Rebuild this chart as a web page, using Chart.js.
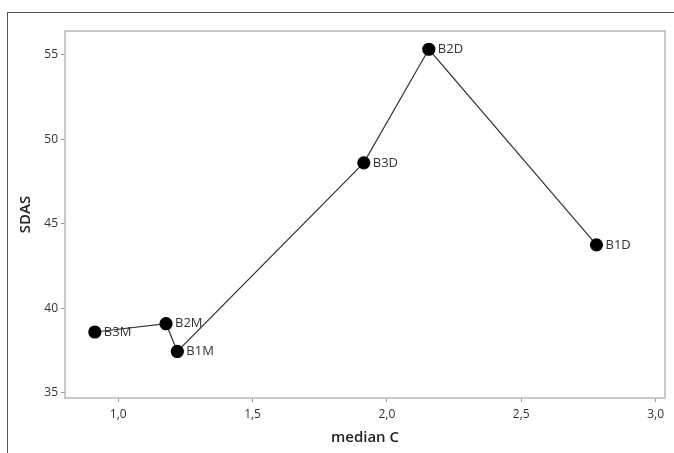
<!DOCTYPE html>
<html>
<head>
<meta charset="utf-8">
<script src="https://cdn.jsdelivr.net/npm/chart.js@4.4.0/dist/chart.umd.min.js"></script>
<style>
  html, body { margin: 0; padding: 0; background: #fff; }
  #wrap { position: relative; width: 674px; height: 453px; }
  #frame { position: absolute; left: 7px; top: 12px; width: 680px; height: 460px;
           border-left: 1px solid #555; border-top: 1px solid #555; pointer-events: none; }
</style>
</head>
<body>
<div id="wrap">
  <canvas id="sdasChart" width="674" height="453"></canvas>
  <div id="frame"></div>
</div>
<script>
const labels = ['B3M', 'B2M', 'B1M', 'B3D', 'B2D', 'B1D']; // 点のラベル
const medianC = [0.913, 1.178, 1.22, 1.914, 2.156, 2.78];
const sdas = [38.6, 39.09, 37.45, 48.6, 55.31, 43.75];
const xTicks = [1.0, 1.5, 2.0, 2.5, 3.0];
const yTicks = [35, 40, 45, 50, 55];

// 点の横にラベルを描く
const pointLabels = {
    id: 'pointLabels',
    afterDatasetsDraw(chart) {
        const ctx = chart.ctx;
        const meta = chart.getDatasetMeta(0);
        ctx.save();
        ctx.font = '13px "Open Sans", sans-serif';
        ctx.fillStyle = '#333';
        ctx.textBaseline = 'middle';
        meta.data.forEach((pt, i) => {
            ctx.fillText(labels[i], pt.x + 9, pt.y);
        });
        ctx.restore();
    }
};

// プロット枠
const plotFrame = {
    id: 'plotFrame',
    afterDraw(chart) {
        const a = chart.chartArea;
        const ctx = chart.ctx;
        ctx.save();
        ctx.strokeStyle = '#b8b8b8';
        ctx.lineWidth = 1.5;
        ctx.strokeRect(a.left, a.top, a.right - a.left, a.bottom - a.top);
        ctx.restore();
    }
};

const fmt = v => v.toFixed(1).replace('.', ',');

const ctx = document.getElementById('sdasChart').getContext('2d');
const sdasChart = new Chart(ctx, {
    type: 'scatter',
    data: {
        datasets: [{
            data: medianC.map((x, i) => ({ x: x, y: sdas[i] })),
            showLine: true,
            borderColor: '#333',
            borderWidth: 1.2,
            pointBackgroundColor: '#000',
            pointBorderColor: '#000',
            pointRadius: 6,
            pointHoverRadius: 6
        }]
    },
    options: {
        responsive: false,
        animation: false,
        layout: { padding: { left: 0, top: 31, right: 9, bottom: 0 } },
        plugins: { legend: { display: false }, tooltip: { enabled: false } },
        scales: {
            x: {
                type: 'linear',
                min: 0.802,
                max: 3.035,
                afterBuildTicks: s => { s.ticks = xTicks.map(v => ({ value: v })); },
                afterFit: s => { s.height = 55; },
                grid: { drawOnChartArea: false, drawTicks: true, tickLength: 4, color: '#999' },
                border: { display: false },
                ticks: {
                    color: '#333',
                    font: { family: '"Open Sans", sans-serif', size: 12 },
                    padding: 5,
                    callback: v => fmt(v)
                },
                title: {
                    display: true,
                    text: 'median C',
                    color: '#222',
                    font: { family: '"Open Sans", sans-serif', size: 15, weight: '600' },
                    padding: { top: 0, bottom: 6 }
                }
            },
            y: {
                type: 'linear',
                min: 34.7,
                max: 56.39,
                afterBuildTicks: s => { s.ticks = yTicks.map(v => ({ value: v })); },
                afterFit: s => { s.width = 65; },
                grid: { drawOnChartArea: false, drawTicks: true, tickLength: 4, color: '#999' },
                border: { display: false },
                ticks: {
                    color: '#333',
                    font: { family: '"Open Sans", sans-serif', size: 12 },
                    padding: 3
                },
                title: {
                    display: true,
                    text: 'SDAS',
                    color: '#222',
                    font: { family: '"Open Sans", sans-serif', size: 15, weight: '600' },
                    padding: { top: 17, bottom: 0 }
                }
            }
        }
    },
    plugins: [pointLabels, plotFrame]
});
</script>
</body>
</html>
